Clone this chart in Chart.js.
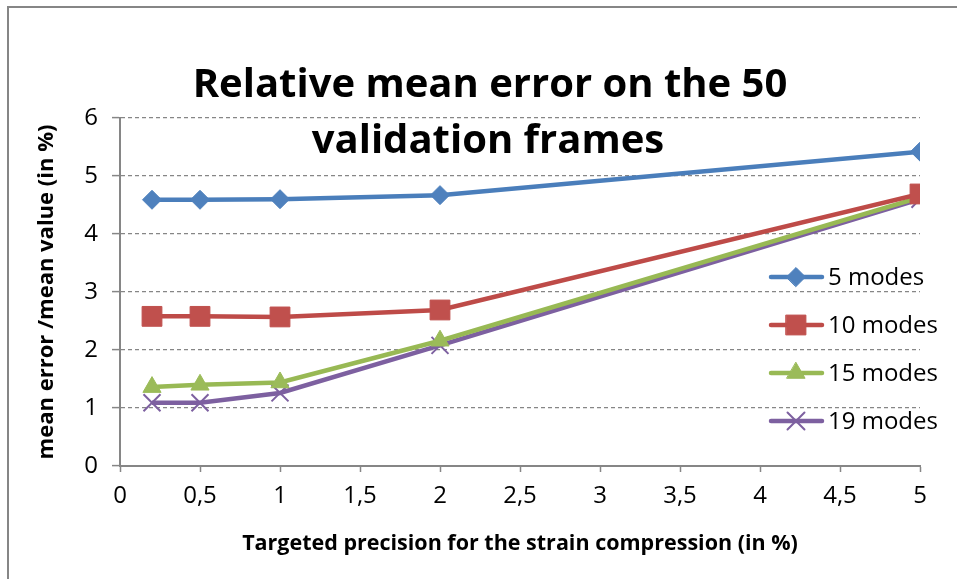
<!DOCTYPE html>
<html>
<head>
<meta charset="utf-8">
<script src="https://cdn.jsdelivr.net/npm/chart.js@4/dist/chart.umd.min.js"></script>
<style>
  html, body { margin: 0; padding: 0; background: #fff; }
  #wrap { width: 957px; height: 579px; }
</style>
</head>
<body>
<div id="wrap"><canvas id="chart" width="957" height="579"></canvas></div>
<script>
// values
const precision = [0.2, 0.5, 1, 2, 5];
const modes5 = [4.59, 4.59, 4.60, 4.67, 5.42];
const modes10 = [2.58, 2.58, 2.57, 2.69, 4.69];
const modes15 = [1.36, 1.40, 1.44, 2.16, 4.63];
const modes19 = [1.09, 1.09, 1.26, 2.08, 4.60];
const seriesNames = ["5 modes", "10 modes", "15 modes", "19 modes"];
const titleLines = ["Relative mean error on the 50", "validation frames"];

const FONT = "'Open Sans', 'Liberation Sans', sans-serif";
const GRAY = "#868686";

const toPoints = (ys) => ys.map((y, i) => ({ x: precision[i], y }));

// title drawn over the top of the plot, like the Excel original
const titlePlugin = {
  id: "overlayTitle",
  afterDraw(chart) {
    const ctx = chart.ctx;
    ctx.save();
    ctx.fillStyle = "#000";
    ctx.font = "bold 40px " + FONT;
    ctx.textAlign = "center";
    ctx.textBaseline = "alphabetic";
    ctx.fillText(titleLines[0], 490, 97);
    ctx.fillText(titleLines[1], 488, 153);
    // frame of the chart object
    ctx.strokeStyle = GRAY;
    ctx.lineWidth = 2;
    ctx.beginPath();
    ctx.moveTo(8, 600);
    ctx.lineTo(8, 7);
    ctx.lineTo(960, 7);
    ctx.stroke();
    ctx.restore();
  },
};

// legend sitting inside the plot area on the right
const legendPlugin = {
  id: "overlayLegend",
  afterDatasetsDraw(chart) {
    const ctx = chart.ctx;
    ctx.save();
    chart.data.datasets.forEach((ds, i) => {
      const y = 277 + 48 * i;
      ctx.strokeStyle = ds.borderColor;
      ctx.lineWidth = ds.borderWidth;
      ctx.lineCap = "round";
      ctx.beginPath();
      ctx.moveTo(771, y);
      ctx.lineTo(822, y);
      ctx.stroke();
      ctx.fillStyle = ds.pointBackgroundColor;
      ctx.strokeStyle = ds.pointBorderColor;
      ctx.lineWidth = ds.pointBorderWidth;
      Chart.helpers.drawPoint(ctx, {
        pointStyle: ds.pointStyle,
        radius: ds.pointRadius,
        rotation: 0,
        borderWidth: ds.pointBorderWidth,
      }, 796, y);
      ctx.fillStyle = "#000";
      ctx.font = "24px " + FONT;
      ctx.textAlign = "left";
      ctx.textBaseline = "middle";
      ctx.fillText(ds.label, 828, y + 1);
    });
    ctx.restore();
  },
};

function series(label, data, line, fill, style, radius, bw) {
  return {
    label,
    data: toPoints(data),
    borderColor: line,
    borderWidth: 4.5,
    pointStyle: style,
    pointRadius: radius,
    pointHoverRadius: radius,
    pointBackgroundColor: fill,
    pointBorderColor: style === "crossRot" ? line : fill,
    pointBorderWidth: bw,
    showLine: true,
    tension: 0,
  };
}

new Chart(document.getElementById("chart"), {
  type: "scatter",
  data: {
    datasets: [
      series(seriesNames[0], modes5, "#4A7EBB", "#4F81BD", "rectRot", 9.5, 1),
      series(seriesNames[1], modes10, "#BE4B48", "#C0504D", "rect", 14, 1),
      series(seriesNames[2], modes15, "#98B954", "#9BBB59", "triangle", 10.5, 1),
      series(seriesNames[3], modes19, "#7D60A0", "#8064A2", "crossRot", 12, 2),
    ],
  },
  options: {
    responsive: false,
    animation: false,
    layout: { padding: { top: 118, right: 37, left: 0, bottom: 0 } },
    scales: {
      x: {
        type: "linear",
        min: 0,
        max: 5,
        afterFit(scale) { scale.height = 113; },
        ticks: {
          stepSize: 0.5,
          color: "#000",
          padding: 10,
          font: { family: FONT, size: 24 },
          maxRotation: 0,
          callback: (v) => String(v).replace(".", ","),
        },
        grid: {
          drawOnChartArea: false,
          drawTicks: true,
          tickLength: 6,
          tickColor: GRAY,
          tickWidth: 1.5,
        },
        border: { color: GRAY, width: 2 },
        title: {
          display: true,
          text: "Targeted precision for the strain compression (in %)",
          color: "#000",
          font: { family: FONT, size: 21.5, weight: "bold" },
          padding: { top: 6, bottom: 22 },
        },
      },
      y: {
        min: 0,
        max: 6,
        afterFit(scale) { scale.width = 120; },
        ticks: {
          stepSize: 1,
          color: "#000",
          padding: 14,
          font: { family: FONT, size: 24 },
        },
        grid: {
          color: GRAY,
          lineWidth: 1.2,
          tickLength: 8,
          tickColor: GRAY,
          tickWidth: 1.5,
        },
        border: { color: GRAY, width: 2, dash: [4, 3] },
        title: {
          display: true,
          text: "mean error /mean value (in %)",
          color: "#000",
          font: { family: FONT, size: 22, weight: "bold" },
          padding: { top: 34, bottom: 0 },
        },
      },
    },
    plugins: {
      legend: { display: false },
      title: { display: false },
      tooltip: { enabled: false },
    },
  },
  plugins: [titlePlugin, legendPlugin],
});
</script>
</body>
</html>
